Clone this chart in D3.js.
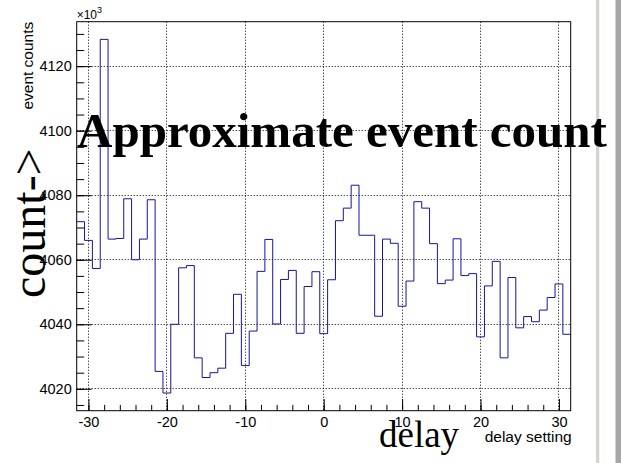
<!DOCTYPE html>
<html>
<head>
<meta charset="utf-8">
<script src="https://cdn.jsdelivr.net/npm/d3@7/dist/d3.min.js"></script>
<style>
  html, body { margin: 0; padding: 0; background: #fff; }
  svg { display: block; }
</style>
</head>
<body>
<svg id="chart" width="621" height="463"></svg>
<script>
// Delay settings (bin centres, width 1) and event counts per setting, in units of 10^3
const delays = [
  -31, -30, -29, -28, -27, -26, -25, -24, -23, -22, -21, -20, -19, -18, -17, -16,
  -15, -14, -13, -12, -11, -10, -9, -8, -7, -6, -5, -4, -3, -2, -1,
  0, 1, 2, 3, 4, 5, 6, 7, 8, 9, 10, 11, 12, 13, 14, 15,
  16, 17, 18, 19, 20, 21, 22, 23, 24, 25, 26, 27, 28, 29, 30, 31
];
const countsK = [
  4071.8, 4066.0, 4057.3, 4128.3, 4066.4, 4066.6, 4078.9, 4060.0, 4066.4, 4078.6, 4025.4, 4018.7, 4040.0, 4057.5, 4058.2, 4029.6,
  4023.5, 4025.0, 4026.4, 4037.2, 4049.3, 4027.2, 4037.9, 4056.4, 4066.3, 4040.1, 4053.9, 4056.7, 4037.2, 4051.7, 4056.3,
  4037.1, 4053.8, 4072.1, 4076.0, 4083.1, 4067.6, 4067.6, 4042.5, 4066.4, 4065.1, 4045.6, 4053.4, 4078.0, 4076.0, 4065.0, 4052.6,
  4053.7, 4066.5, 4055.1, 4055.7, 4036.1, 4051.9, 4059.5, 4029.6, 4054.5, 4038.9, 4042.4, 4040.8, 4044.4, 4048.3, 4052.5, 4036.9
];
const xMajorTicks = [-30, -20, -10, 0, 10, 20, 30];
const xMinorTicks = d3.range(-30, 31, 2);
const yMajorTicks = [4020, 4040, 4060, 4080, 4100, 4120];
const yMinorTicks = d3.range(4015, 4134, 5);

const titleText = "Approximate event count";
const xTitle = "delay setting";
const yTitle = "event counts";
const xBigLabel = "delay";
const yBigLabel = "count->";

const binWidth = 1;

const svg = d3.select("#chart");
const frame = { left: 76.7, top: 21.7, right: 570.7, bottom: 410.7 };

// axis ranges: one bin-half beyond the outer bins; 5% head/foot room on the counts
const yMin = d3.min(countsK), yMax = d3.max(countsK);
const yPad = 0.05 * (yMax - yMin);
const x = d3.scaleLinear()
  .domain([delays[0] - binWidth / 2, delays[delays.length - 1] + binWidth / 2])
  .range([frame.left, frame.right]);
const y = d3.scaleLinear()
  .domain([yMin - yPad, yMax + yPad])
  .range([frame.bottom, frame.top]);

// snap a coordinate to a pixel centre so 1px dotted lines stay crisp
const crisp = v => Math.round(v - 0.5) + 0.5;

// window edge strips on the right
svg.append("rect").attr("x", 596).attr("y", 0).attr("width", 3.3).attr("height", 463).attr("fill", "#d4d4cd");
svg.append("rect").attr("x", 615.5).attr("y", 0).attr("width", 5.5).attr("height", 463).attr("fill", "#a6a6a6");

// dotted grid at the major ticks
const grid = svg.append("g")
  .attr("stroke", "#000").attr("stroke-width", 1).attr("stroke-dasharray", "1,2");
grid.selectAll("line.v").data(xMajorTicks).join("line")
  .attr("class", "v")
  .attr("x1", d => crisp(x(d))).attr("x2", d => crisp(x(d)))
  .attr("y1", frame.top).attr("y2", frame.bottom);
grid.selectAll("line.h").data(yMajorTicks).join("line")
  .attr("class", "h")
  .attr("x1", frame.left).attr("x2", frame.right)
  .attr("y1", d => crisp(y(d))).attr("y2", d => crisp(y(d)));

// histogram outline as steps
const pts = delays.map((d, i) => [d - binWidth / 2, countsK[i]]);
pts.push([delays[delays.length - 1] + binWidth / 2, countsK[countsK.length - 1]]);
const step = d3.line()
  .x(d => x(d[0]))
  .y(d => y(d[1]))
  .curve(d3.curveStepAfter);
svg.append("path")
  .attr("d", step(pts))
  .attr("fill", "none")
  .attr("stroke", "#1414a0")
  .attr("stroke-width", 1);

// axes (ticks point into the frame); labels use a plain hyphen for negatives
const tickFont = "'Liberation Sans', Arial, Helvetica, sans-serif";
const plain = d => String(d);

const yMinorAxis = d3.axisLeft(y).tickValues(yMinorTicks).tickSize(-7.5).tickFormat("");
const yMajorAxis = d3.axisLeft(y).tickValues(yMajorTicks).tickSize(-15).tickPadding(5).tickFormat(plain);
const xMinorAxis = d3.axisBottom(x).tickValues(xMinorTicks).tickSize(-5.8).tickFormat("");
const xMajorAxis = d3.axisBottom(x).tickValues(xMajorTicks).tickSize(-11.7).tickPadding(6).tickFormat(plain);

function styleAxis(g) {
  g.select(".domain").remove();
  g.selectAll(".tick line").attr("stroke", "#000").attr("stroke-width", 1);
  g.selectAll(".tick text")
    .attr("fill", "#000")
    .style("font-family", tickFont)
    .style("font-size", "14.5px");
}

svg.append("g").attr("transform", `translate(${frame.left},0)`).call(yMinorAxis).call(styleAxis);
svg.append("g").attr("transform", `translate(${frame.left},0)`).call(yMajorAxis).call(styleAxis);
svg.append("g").attr("transform", `translate(0,${frame.bottom})`).call(xMinorAxis).call(styleAxis);
svg.append("g").attr("transform", `translate(0,${frame.bottom})`).call(xMajorAxis).call(styleAxis);

// frame
svg.append("rect")
  .attr("x", frame.left).attr("y", frame.top)
  .attr("width", frame.right - frame.left).attr("height", frame.bottom - frame.top)
  .attr("fill", "none").attr("stroke", "#000").attr("stroke-width", 1);

// exponent marker for the count axis
const expo = svg.append("text")
  .attr("x", frame.left).attr("y", 19.3)
  .style("font-family", tickFont).style("font-size", "12px").attr("fill", "#000");
expo.append("tspan").text("\u00d710");
expo.append("tspan").attr("dy", -6.5).style("font-size", "9px").text("3");

// axis titles
svg.append("text")
  .attr("x", frame.right + 1).attr("y", 441.7)
  .attr("text-anchor", "end")
  .style("font-family", tickFont).style("font-size", "15.5px")
  .attr("fill", "#000")
  .text(xTitle);

svg.append("text")
  .attr("transform", `translate(33,${frame.top}) rotate(-90)`)
  .attr("text-anchor", "end")
  .style("font-family", tickFont).style("font-size", "15.5px")
  .attr("fill", "#000")
  .text(yTitle);

// large serif labels
const serif = "'Liberation Serif', 'Times New Roman', Times, serif";
svg.append("text")
  .attr("x", 77).attr("y", 147)
  .style("font-family", serif).style("font-size", "49px").style("font-weight", "bold")
  .attr("fill", "#000")
  .text(titleText);

svg.append("text")
  .attr("transform", "translate(45,298) rotate(-90)")
  .style("font-family", serif).style("font-size", "48px")
  .attr("fill", "#000")
  .text(yBigLabel);

svg.append("text")
  .attr("x", 379).attr("y", 447)
  .style("font-family", serif).style("font-size", "37px")
  .attr("fill", "#000")
  .text(xBigLabel);
</script>
</body>
</html>
